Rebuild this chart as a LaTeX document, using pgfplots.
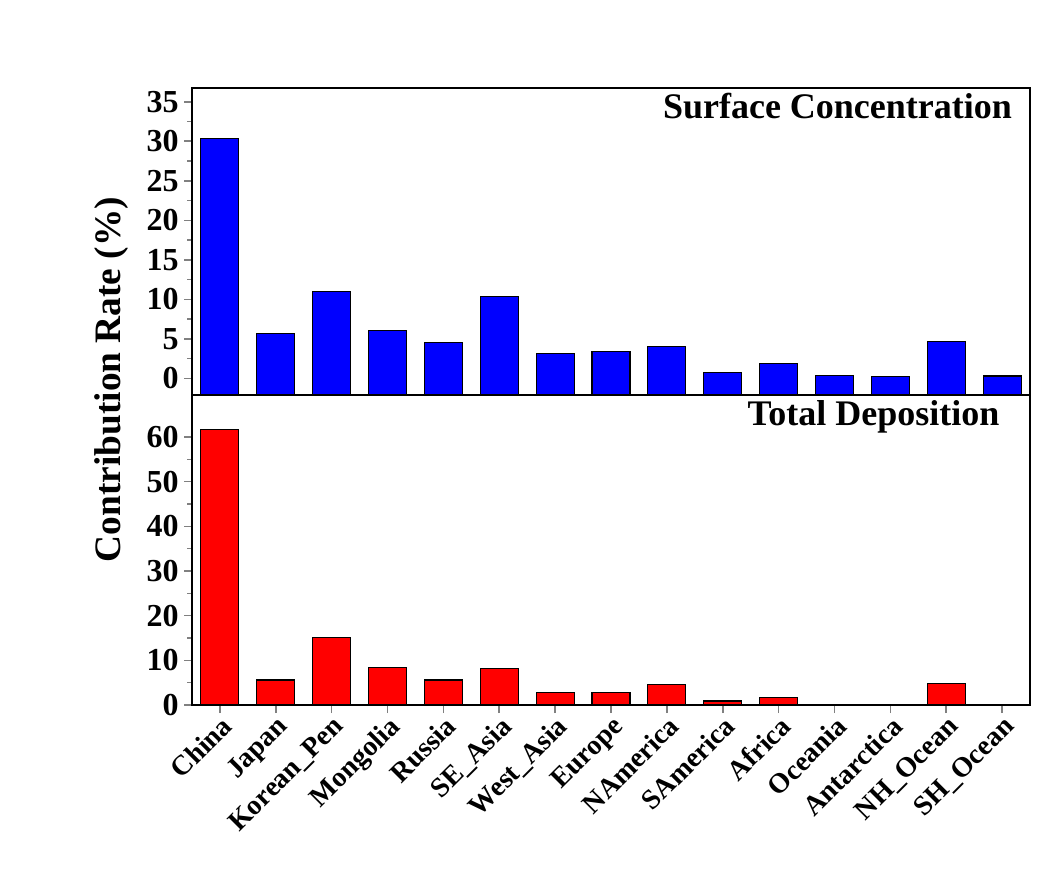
\documentclass[border=0pt]{standalone}
\usepackage{pgfplots}
\pgfplotsset{compat=1.18}
\usepackage{fontspec}
\setmainfont{Liberation Serif}
\begin{document}
\begin{tikzpicture}
\path (-144pt,-122.25pt) rectangle (652.5pt,528.75pt);
\pgfplotsset{every axis/.append style={
  scale only axis, width=628.5pt, xmin=-0.5, xmax=14.5,
  line width=1.5pt, tick style={line width=1.2pt},
  major tick length=6pt, minor tick length=3.5pt,
  tick align=outside, ytick pos=left, xtick pos=bottom,
  /pgf/number format/assume math mode=true,
  tick label style={font=\fontsize{24}{26}\selectfont\bfseries},
  xtick={0,...,14},
}}
% bottom
\begin{axis}[at={(0,0)}, height=232.5pt, ymin=0, ymax=69.4,
  ytick={0,10,...,60}, minor y tick num=1,
  xticklabels={China,Japan,Korean\_Pen,Mongolia,Russia,SE\_Asia,West\_Asia,Europe,NAmerica,SAmerica,Africa,Oceania,Antarctica,NH\_Ocean,SH\_Ocean},
  xticklabel style={rotate=45, anchor=north east, inner sep=0pt, font=\fontsize{21}{23}\selectfont\bfseries},
  ylabel={Contribution Rate (\%)},
  ylabel style={font=\fontsize{28}{30}\selectfont\bfseries, at={(ticklabel cs:1.05)}, anchor=south, yshift=6pt},
  title={Total Deposition}, title style={at={(0.97,0.975)}, anchor=north east, font=\fontsize{27}{29}\selectfont\bfseries}]
\addplot[ybar, bar width=0.68, fill=red, draw=black, line width=0.8pt] coordinates {
(0,61.6)(1,5.6)(2,15.1)(3,8.5)(4,5.6)(5,8.1)(6,2.7)(7,2.9)(8,4.5)(9,0.9)(10,1.6)(11,0.1)(12,0.05)(13,4.9)(14,0.1)};
\end{axis}
% top (values shifted by +2.1 so bars reach the bottom of the axis)
\begin{axis}[at={(0,232.5pt)}, height=230pt, ymin=0, ymax=38.8,
  ytick={2.1,7.1,...,37.1}, yticklabels={0,5,10,15,20,25,30,35},
  minor y tick num=1, xticklabels={}, xtick style={draw=none},
  title={Surface Concentration}, title style={at={(0.985,0.975)}, anchor=north east, font=\fontsize{27}{29}\selectfont\bfseries}]
\addplot[ybar, bar width=0.68, fill=blue, draw=black, line width=0.8pt] coordinates {
(0,32.4)(1,7.8)(2,13.1)(3,8.2)(4,6.7)(5,12.5)(6,5.3)(7,5.5)(8,6.1)(9,2.9)(10,4.0)(11,2.5)(12,2.3)(13,6.8)(14,2.4)};
\end{axis}
\end{tikzpicture}
\end{document}
